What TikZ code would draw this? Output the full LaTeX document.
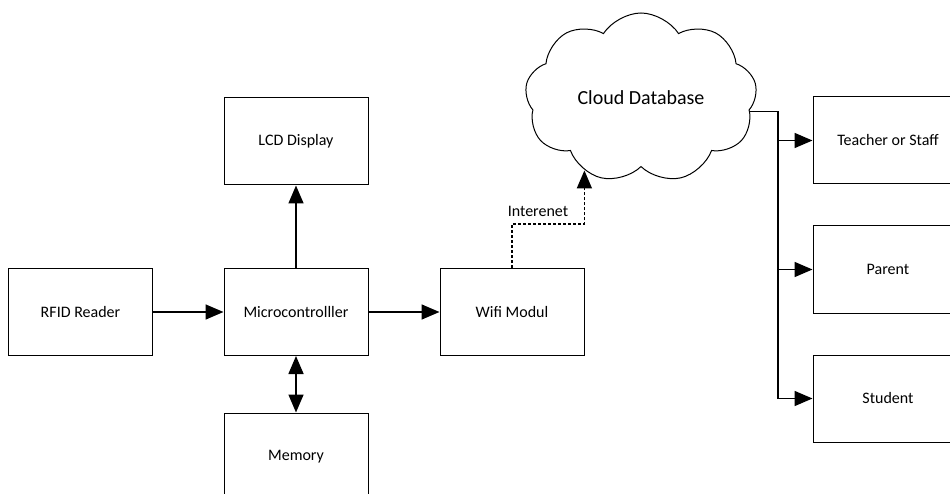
\documentclass[tikz,border=0pt]{standalone}
\usepackage{fontspec}
\setmainfont{Carlito}
\usetikzlibrary{shapes.symbols,arrows.meta}
\begin{document}
\begin{tikzpicture}[x=1pt,y=-1pt,
  box/.style={draw, line width=1pt, minimum width=144pt, minimum height=87pt, font=\fontsize{16}{18}\selectfont, inner sep=0pt},
  tip/.style={Triangle[length=18pt,width=15pt]},
  conn/.style={line width=1.6pt, -{Triangle[length=18pt,width=15pt]}},
  link/.style={line width=1.6pt},
]
\path[use as bounding box, clip] (0,0) rectangle (950,494);
\node[box] (rfid) at (80.5,312) {RFID Reader};
\node[box] (mcu) at (296,312) {Microcontrolller};
\node[box] (wifi) at (512,312) {Wifi Modul};
\node[box] (lcd) at (296,141.5) {LCD Display};
\node[box] (mem) at (296,456.5) {Memory};
\node[box, minimum width=150pt] (teach) at (888,140.5) {Teacher or Staff};
\node[box, minimum width=150pt] (par) at (888,269.5) {Parent};
\node[box, minimum width=150pt] (stu) at (888,398.5) {Student};
\node[cloud, draw, line width=1pt, cloud puffs=9, cloud puff arc=115, aspect=1.36, minimum width=232pt, minimum height=170pt, inner sep=0pt, font=\fontsize{20}{24}\selectfont] (cloud) at (641,98) {Cloud Database};
\node[font=\fontsize{16}{18}\selectfont] (lbl) at (538,211) {Interenet};
\coordinate (j1) at (778,140.5);
\coordinate (j2) at (778,269.5);
\coordinate (j3) at (778,398.5);
\draw[conn] (rfid) -- (mcu);
\draw[conn] (mcu) -- (wifi);
\draw[conn] (mcu) -- (lcd);
\draw[line width=1.6pt, {Triangle[length=18pt,width=15pt]}-{Triangle[length=18pt,width=15pt]}] (mcu) -- (mem);
\draw[conn, dash pattern=on 3pt off 2pt] (wifi.north) -- ++(0,-44) -| (cloud.-128);
\draw[link] (cloud.-7) -| (j3);
\draw[conn] (j1) -- (teach.west);
\draw[conn] (j2) -- (par.west);
\draw[conn] (j3) -- (stu.west);
\end{tikzpicture}
\end{document}
